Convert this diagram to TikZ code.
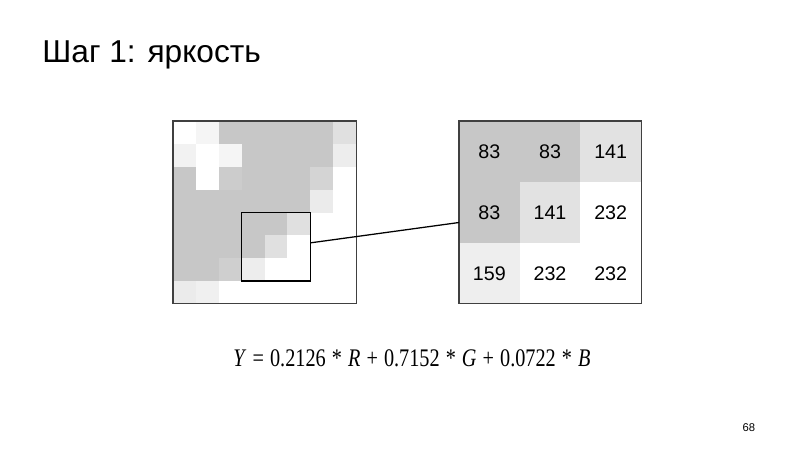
\documentclass[tikz,border=0pt]{standalone}
\usepackage{fontspec}
\setmainfont{Liberation Sans}
\newfontfamily\formulafont{Liberation Serif}
\usepackage{graphicx}
\usetikzlibrary{calc}
\definecolor{lum83}{gray}{0.78}
\definecolor{lum141}{gray}{0.885}
\definecolor{lum159}{gray}{0.935}
\definecolor{lum232}{gray}{1}
\definecolor{framegray}{gray}{0.25}
\tikzstyle{frame}=[draw=framegray,line width=0.75pt,inner sep=0pt]
\tikzstyle{window}=[draw=black,line width=0.9pt,inner sep=0pt,minimum width=1.715cm,minimum height=1.715cm]
\tikzstyle{lumacell}=[inner sep=0pt,minimum size=1.5175cm,font=\fontsize{14}{14}\selectfont]
\tikzstyle{link}=[draw,line width=0.9pt]
\newcommand{\gap}{\hspace{0.3em}}

\begin{document}
\begin{tikzpicture}[x=0.025cm,y=-0.025cm]
  \useasboundingbox (0,0) rectangle (800,450);
  \node[anchor=base west,font=\fontsize{22.5}{27}\selectfont] (title) at (37.5,62) {Шаг 1: яркость};

  % pixels of the picture, row by row (percent of black)
  \foreach \shades [count=\r from 0] in {{0,4,22,22,22,22,22,12},{5,0,4,22,22,22,22,7},
      {22,0,20,22,22,22,17,0},{22,22,22,22,22,22,8,0},{22,22,22,22,22,12,0,0},
      {22,22,22,22,12,0,0,0},{22,22,19,7,0,0,0,0},{8,6,0,0,0,0,0,0}}
    \foreach \s [count=\c from 0] in \shades
      \fill[black!\s] ({173+22.875*\c},{121+22.875*\r}) rectangle ++(23.1,23.1);
  \node[frame,minimum width=4.575cm,minimum height=4.55cm] (photo) at (264.5,212) {};
  \node[window] (zoomwin) at (275.9,246.8) {};

  % luminance values of the window
  \foreach \r/\c/\val in {0/0/83,0/1/83,0/2/141,1/0/83,1/1/141,1/2/232,2/0/159,2/1/232,2/2/232}
    \node[lumacell,fill=lum\val] (y-\r-\c) at ({489.3+60.7*\c},{152+60.7*\r}) {\val};
  \node[frame,minimum size=4.55cm] (lumamap) at (550,212) {};

  \coordinate (mapentry) at (459,222.5);
  \draw[link] ([yshift=2.85pt]zoomwin.east) -- (mapentry);

  \node[anchor=base,font=\formulafont\fontsize{18}{20}\selectfont] (formula) at (412,366)
    {\scalebox{0.8}[1]{\textit{Y}\gap=\gap0.2126\gap*\gap\textit{R}\gap+\gap0.7152\gap*\gap\textit{G}\gap+\gap0.0722\gap*\gap\textit{B}}};

  \node[anchor=base east,font=\fontsize{8}{10}\selectfont] (pageno) at (760,431) {68};
\end{tikzpicture}
\end{document}
